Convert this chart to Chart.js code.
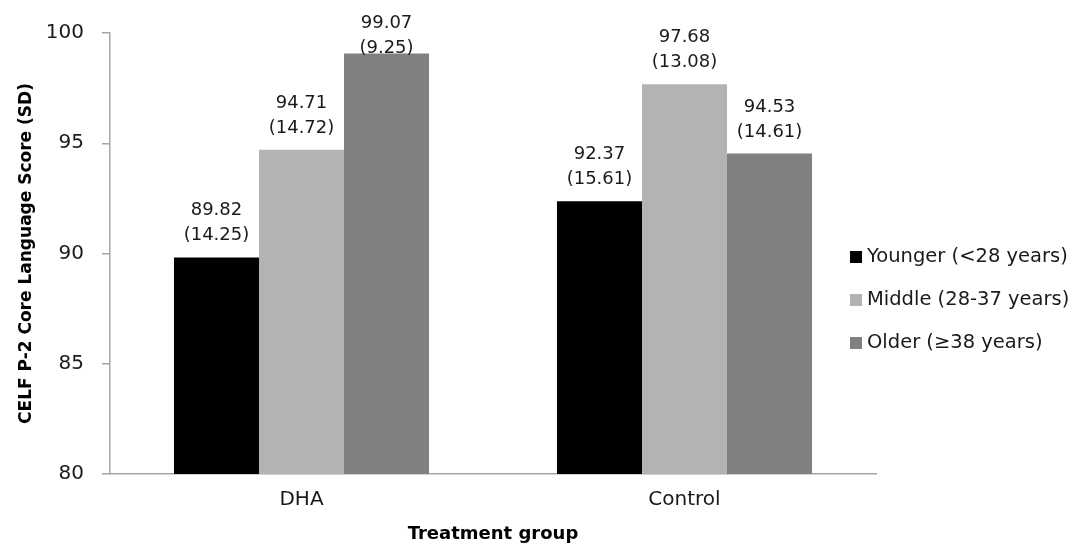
<!DOCTYPE html>
<html>
<head>
<meta charset="utf-8">
<script src="https://cdn.jsdelivr.net/npm/chart.js@4.4.1/dist/chart.umd.min.js"></script>
<style>
  html, body { margin: 0; padding: 0; background: #fff; }
  #wrap { width: 1085px; height: 548px; position: relative; }
</style>
</head>
<body>
<div id="wrap"><canvas id="celfChart"></canvas></div>
<script>
const groups = ['DHA', 'Control'];
const seriesNames = ['Younger (<28 years)', 'Middle (28-37 years)', 'Older (\u226538 years)'];
const younger = [89.82, 92.37];
const middle = [94.71, 97.68];
const older = [99.07, 94.53];
const youngerSD = [14.25, 15.61];
const middleSD = [14.72, 13.08];
const olderSD = [9.25, 14.61];
const yTicks = [80, 85, 90, 95, 100];

const FONT = '"DejaVu Sans", sans-serif';
const TEXT = '#1a1a1a';
const AXIS = '#a6a6a6';

// two-line value + (SD) labels above each bar
const barLabels = {
  id: 'barLabels',
  afterDatasetsDraw(chart) {
    const ctx = chart.ctx;
    ctx.save();
    ctx.font = '18px ' + FONT;
    ctx.fillStyle = TEXT;
    ctx.textAlign = 'center';
    ctx.textBaseline = 'alphabetic';
    chart.data.datasets.forEach((ds, i) => {
      chart.getDatasetMeta(i).data.forEach((bar, j) => {
        const line1 = Math.max(bar.y - 42, 28);
        ctx.fillText(ds.data[j].toFixed(2), bar.x, line1);
        ctx.fillText('(' + ds.sd[j].toFixed(2) + ')', bar.x, line1 + 25);
      });
    });
    ctx.restore();
  }
};

// legend on the right, overlapping the plot box like the original
const sideLegend = {
  id: 'sideLegend',
  afterDraw(chart) {
    const ctx = chart.ctx;
    ctx.save();
    ctx.font = '19.5px ' + FONT;
    ctx.textBaseline = 'middle';
    ctx.textAlign = 'left';
    chart.data.datasets.forEach((ds, i) => {
      const cy = 257 + i * 43;
      ctx.fillStyle = ds.backgroundColor;
      ctx.fillRect(850, cy - 6, 12, 12);
      ctx.fillStyle = TEXT;
      ctx.fillText(ds.label, 867, cy);
    });
    ctx.restore();
  }
};

new Chart(document.getElementById('celfChart'), {
  type: 'bar',
  data: {
    labels: groups,
    datasets: [
      { label: seriesNames[0], data: younger, sd: youngerSD, backgroundColor: '#000000' },
      { label: seriesNames[1], data: middle, sd: middleSD, backgroundColor: '#b3b3b3' },
      { label: seriesNames[2], data: older, sd: olderSD, backgroundColor: '#808080' }
    ]
  },
  options: {
    responsive: true,
    maintainAspectRatio: false,
    animation: false,
    datasets: { bar: { categoryPercentage: 0.666, barPercentage: 1, borderWidth: 0 } },
    layout: { padding: { left: 0, right: 209, top: 33, bottom: 0 } },
    plugins: {
      legend: { display: false },
      tooltip: { enabled: false }
    },
    scales: {
      x: {
        afterFit: (scale) => { scale.height = 74; },
        grid: { display: false, drawTicks: false },
        border: { color: AXIS, width: 1.5 },
        ticks: { color: TEXT, font: { family: FONT, size: 20 }, padding: 14 },
        title: {
          display: true,
          text: 'Treatment group',
          color: '#000',
          font: { family: FONT, size: 18, weight: 'bold' },
          padding: { top: 0, bottom: 3 }
        }
      },
      y: {
        min: 80,
        max: 100,
        afterFit: (scale) => { scale.width = 110; },
        afterBuildTicks: (scale) => { scale.ticks = yTicks.map(v => ({ value: v })); },
        grid: { display: true, drawOnChartArea: false, drawTicks: true, tickLength: 8, color: AXIS, lineWidth: 1.5 },
        border: { color: AXIS, width: 1.5 },
        ticks: { color: TEXT, font: { family: FONT, size: 20 }, padding: 18 },
        title: {
          display: true,
          text: 'CELF P-2 Core Language Score (SD)',
          color: '#000',
          font: { family: FONT, size: 17, weight: 'bold' },
          padding: { top: 16, bottom: 0 }
        }
      }
    }
  },
  plugins: [barLabels, sideLegend]
});
</script>
</body>
</html>
